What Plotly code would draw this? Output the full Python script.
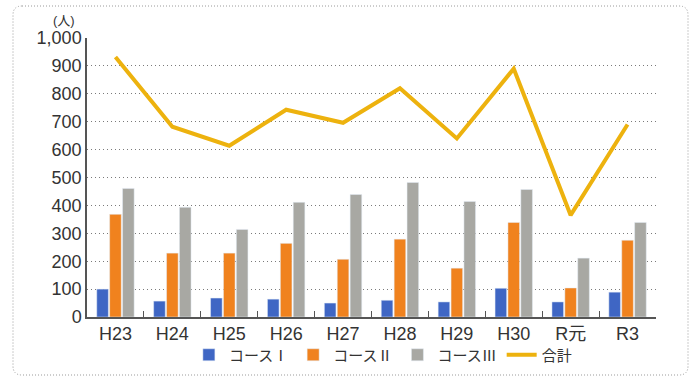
import plotly.graph_objects as go

categories = ["H23", "H24", "H25", "H26", "H27", "H28", "H29", "H30", "R元", "R3"]
course1 = [100, 57, 68, 64, 50, 60, 54, 103, 54, 89]
course2 = [368, 229, 229, 264, 207, 279, 175, 339, 104, 275]
course3 = [461, 393, 314, 411, 439, 482, 414, 457, 211, 339]
total = [932, 682, 614, 743, 696, 820, 640, 890, 365, 690]
names = ["コースⅠ", "コースⅡ", "コースⅢ", "合計"]

W, H = 694, 378
L, R, T, B = 87, 38, 38, 61
pw, ph = W - L - R, H - T - B

FONT = "Liberation Sans, Arial, Noto Sans CJK JP, sans-serif"

fig = go.Figure()
fig.add_trace(go.Bar(x=categories, y=course1, name=names[0], marker_color="#3F66C4"))
fig.add_trace(go.Bar(x=categories, y=course2, name=names[1], marker_color="#F0821E"))
fig.add_trace(go.Bar(x=categories, y=course3, name=names[2], marker_color="#A8A8A3"))
fig.add_trace(go.Scatter(x=categories, y=total, name=names[3], mode="lines",
                         line=dict(color="#EDB20E", width=4)))

def px_x(p):
    return (p - L) / pw

def px_y(p):
    return (H - B - p) / ph

# rounded dotted frame
x0, x1, y0, y1, r = 13, 688, 6, 375, 9
path = (f"M {px_x(x0 + r)},{px_y(y0)} L {px_x(x1 - r)},{px_y(y0)} "
        f"Q {px_x(x1)},{px_y(y0)} {px_x(x1)},{px_y(y0 + r)} "
        f"L {px_x(x1)},{px_y(y1 - r)} Q {px_x(x1)},{px_y(y1)} {px_x(x1 - r)},{px_y(y1)} "
        f"L {px_x(x0 + r)},{px_y(y1)} Q {px_x(x0)},{px_y(y1)} {px_x(x0)},{px_y(y1 - r)} "
        f"L {px_x(x0)},{px_y(y0 + r)} Q {px_x(x0)},{px_y(y0)} {px_x(x0 + r)},{px_y(y0)} Z")
fig.add_shape(type="path", path=path, xref="paper", yref="paper",
              line=dict(color="#9a9a9a", width=1, dash="1px,2px"), layer="below")

fig.add_annotation(text="(人)", xref="paper", yref="paper",
                   x=px_x(64), y=px_y(20), xanchor="center", yanchor="middle",
                   showarrow=False,
                   font=dict(size=13, color="#333333", family=FONT))

fig.update_layout(
    width=W, height=H,
    margin=dict(l=L, r=R, t=T, b=B, autoexpand=False),
    paper_bgcolor="white", plot_bgcolor="white",
    barmode="group", bargap=0.32, bargroupgap=0.1,
    font=dict(family=FONT, color="#333333"),
    showlegend=True,
    legend=dict(orientation="h", x=0.52, xanchor="center", y=px_y(355), yanchor="middle",
                font=dict(size=15, color="#333333", family=FONT),
                itemwidth=30, traceorder="normal", bgcolor="rgba(0,0,0,0)"),
)
fig.update_xaxes(showline=True, linecolor="#555555", linewidth=1.5, automargin=False,
                 ticks="inside", tickson="boundaries", ticklen=6, tickcolor="#555555",
                 tickfont=dict(size=18, color="#333333"), showgrid=False)
fig.update_yaxes(range=[0, 1000], dtick=100, tickformat=",", showline=True, automargin=False,
                 linecolor="#555555", linewidth=1.5, ticks="",
                 showgrid=True, gridcolor="#7a7a7a", gridwidth=1, griddash="1px,3px",
                 tickfont=dict(size=18, color="#333333"), zeroline=False)

fig.write_html("out.html")
